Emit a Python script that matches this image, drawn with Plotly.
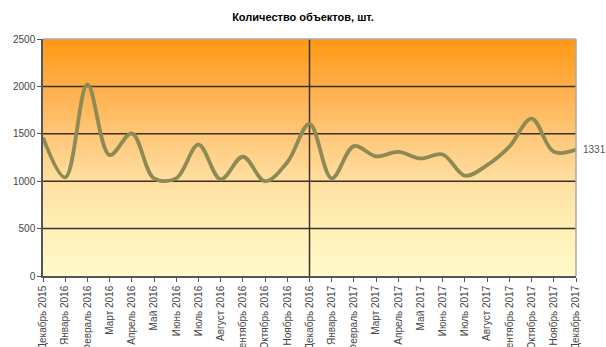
import plotly.graph_objects as go

categories = ["Декабрь 2015", "Январь 2016", "Февраль 2016", "Март 2016", "Апрель 2016",
              "Май 2016", "Июнь 2016", "Июль 2016", "Август 2016", "Сентябрь 2016",
              "Октябрь 2016", "Ноябрь 2016", "Декабрь 2016", "Январь 2017", "Февраль 2017",
              "Март 2017", "Апрель 2017", "Май 2017", "Июнь 2017", "Июль 2017",
              "Август 2017", "Сентябрь 2017", "Октябрь 2017", "Ноябрь 2017", "Декабрь 2017"]
values = [1460, 1040, 2020, 1275, 1505, 1030, 1030, 1385, 1020, 1258,
          1000, 1200, 1605, 1030, 1370, 1262, 1310, 1240, 1282, 1058,
          1170, 1365, 1660, 1310, 1331]
y_ticks = [0, 500, 1000, 1500, 2000, 2500]
divider = "Декабрь 2016"

x = list(range(len(categories)))
y_max = y_ticks[-1]
n_bands = 120
band_edges = [y_max * i / n_bands for i in range(n_bands + 1)]
band_z = [[(band_edges[i] + band_edges[i + 1]) / 2] for i in range(n_bands)]

fig = go.Figure()

# gradient background
fig.add_trace(go.Heatmap(
    x=[x[0], x[-1]], y=band_edges, z=band_z,
    colorscale=[[0.0, "#FFFACB"], [0.2, "#FFF0B6"], [0.4, "#FFDEA0"],
                [0.6, "#FFC777"], [0.8, "#FFAE48"], [1.0, "#FF9914"]],
    zmin=0, zmax=y_max, showscale=False, hoverinfo="skip"))

# grid lines (horizontal) and divider (vertical)
gx, gy = [], []
for t in y_ticks[1:-1]:
    gx += [x[0], x[-1], None]
    gy += [t, t, None]
xi = categories.index(divider)
gx += [xi, xi, None]
gy += [0, y_max, None]
fig.add_trace(go.Scatter(x=gx, y=gy, mode="lines",
                         line=dict(color="#3a3226", width=1.5),
                         hoverinfo="skip", showlegend=False))

# data line
fig.add_trace(go.Scatter(x=x, y=values, mode="lines",
                         line=dict(color="#8E8A56", width=3.8, shape="spline", smoothing=1.0),
                         showlegend=False))

fig.add_annotation(x=x[-1], y=values[-1], text=str(values[-1]), showarrow=False,
                   xanchor="left", xshift=5, font=dict(size=10, color="#555555"))

# top and right gray border
fig.add_shape(type="line", xref="x domain", yref="y domain", x0=0, x1=1, y0=1, y1=1,
              line=dict(color="#A8A8A8", width=1.5))
fig.add_shape(type="line", xref="x domain", yref="y domain", x0=1, x1=1, y0=0, y1=1,
              line=dict(color="#A8A8A8", width=1.5))

fig.update_layout(
    width=606, height=347,
    margin=dict(l=43, r=30, t=39, b=71),
    paper_bgcolor="white", plot_bgcolor="white",
    font=dict(family="Liberation Sans, Arial, sans-serif", color="#444444"),
    title=dict(text="<b>Количество объектов, шт.</b>", x=0.5, xref="container",
               xanchor="center", y=1 - 17 / 347, yref="container", yanchor="middle",
               font=dict(size=11, color="#000000")),
    showlegend=False,
)

fig.update_xaxes(range=[x[0], x[-1]], tickmode="array", tickvals=x, ticktext=categories,
                 tickangle=-90, tickfont=dict(size=10, color="#444444"),
                 showgrid=False, zeroline=False, showline=True, linecolor="#555555",
                 linewidth=1.5, ticks="outside", ticklen=4, tickcolor="#555555",
                 automargin=False)
fig.update_yaxes(range=[0, y_max], tickmode="array", tickvals=y_ticks,
                 tickfont=dict(size=10, color="#444444"),
                 showgrid=False, zeroline=False, showline=True, linecolor="#555555",
                 linewidth=1.5, ticks="outside", ticklen=4, tickcolor="#555555",
                 automargin=False)

fig.write_html("out.html")
